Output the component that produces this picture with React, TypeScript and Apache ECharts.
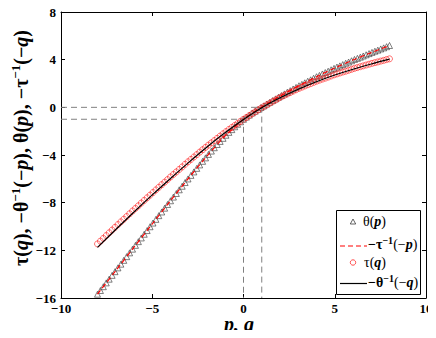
import React, { useEffect, useRef } from "react";
import * as echarts from "echarts";

// Sample positions (p for θ, q for τ)
const P = [
  -8, -7.84, -7.68, -7.52, -7.36, -7.2, -7.04, -6.88, -6.72, -6.56,
  -6.4, -6.24, -6.08, -5.92, -5.76, -5.6, -5.44, -5.28, -5.12, -4.96,
  -4.8, -4.64, -4.48, -4.32, -4.16, -4, -3.84, -3.68, -3.52, -3.36,
  -3.2, -3.04, -2.88, -2.72, -2.56, -2.4, -2.24, -2.08, -1.92, -1.76,
  -1.6, -1.44, -1.28, -1.12, -0.96, -0.8, -0.64, -0.48, -0.32, -0.16,
  0, 0.16, 0.32, 0.48, 0.64, 0.8, 0.96, 1.12, 1.28, 1.44,
  1.6, 1.76, 1.92, 2.08, 2.24, 2.4, 2.56, 2.72, 2.88, 3.04,
  3.2, 3.36, 3.52, 3.68, 3.84, 4, 4.16, 4.32, 4.48, 4.64,
  4.8, 4.96, 5.12, 5.28, 5.44, 5.6, 5.76, 5.92, 6.08, 6.24,
  6.4, 6.56, 6.72, 6.88, 7.04, 7.2, 7.36, 7.52, 7.68, 7.84, 8,
];

// θ(p) triangles
const THETA = [
  -15.68, -15.37, -15.05, -14.73, -14.42, -14.1, -13.79, -13.47, -13.16, -12.84,
  -12.53, -12.21, -11.9, -11.58, -11.27, -10.96, -10.65, -10.34, -10.02, -9.71,
  -9.4, -9.09, -8.78, -8.46, -8.15, -7.84, -7.53, -7.23, -6.92, -6.62,
  -6.31, -6.01, -5.71, -5.42, -5.12, -4.83, -4.53, -4.24, -3.95, -3.67,
  -3.39, -3.12, -2.86, -2.6, -2.34, -2.1, -1.87, -1.63, -1.42, -1.21,
  -1.0, -0.82, -0.65, -0.47, -0.32, -0.17, -0.01, 0.13, 0.28, 0.42,
  0.57, 0.71, 0.85, 0.99, 1.13, 1.27, 1.4, 1.54, 1.67, 1.81,
  1.93, 2.06, 2.19, 2.31, 2.44, 2.57, 2.68, 2.8, 2.92, 3.03,
  3.15, 3.27, 3.38, 3.48, 3.59, 3.7, 3.8, 3.91, 4.02, 4.11,
  4.21, 4.31, 4.41, 4.51, 4.61, 4.71, 4.8, 4.9, 4.99, 5.09, 5.19,
];

// τ(q) circles
const TAU = [
  -11.46, -11.23, -11.0, -10.76, -10.53, -10.3, -10.07, -9.84, -9.61, -9.39,
  -9.16, -8.93, -8.7, -8.48, -8.26, -8.03, -7.81, -7.59, -7.37, -7.15,
  -6.93, -6.71, -6.49, -6.28, -6.06, -5.84, -5.63, -5.42, -5.21, -5.0,
  -4.78, -4.57, -4.37, -4.17, -3.97, -3.76, -3.56, -3.36, -3.17, -2.98,
  -2.79, -2.6, -2.41, -2.22, -2.04, -1.86, -1.69, -1.52, -1.35, -1.17,
  -1.0, -0.85, -0.69, -0.53, -0.38, -0.22, -0.07, 0.07, 0.21, 0.35,
  0.49, 0.62, 0.76, 0.89, 1.01, 1.12, 1.24, 1.36, 1.47, 1.59,
  1.69, 1.79, 1.89, 1.99, 2.09, 2.19, 2.28, 2.37, 2.45, 2.54,
  2.63, 2.72, 2.8, 2.88, 2.96, 3.03, 3.11, 3.19, 3.27, 3.34,
  3.41, 3.48, 3.55, 3.62, 3.69, 3.75, 3.81, 3.88, 3.94, 4.01, 4.07,
];

// Curves drawn as lines
const LINE_X = [-8, -7, -6, -5, -4, -3, -2, -1, 0, 1, 2, 3, 4, 5, 6, 7, 8];
const NEG_TAU_INV = [
  -15.68, -13.71, -11.74, -9.79, -7.84, -5.93, -4.09, -2.4, -1.0,
  0.03, 0.93, 1.78, 2.57, 3.3, 3.97, 4.59, 5.19,
];
const NEG_THETA_INV = [
  -11.75, -10.25, -8.78, -7.35, -5.97, -4.62, -3.33, -2.12, -1.02,
  -0.03, 0.8, 1.52, 2.15, 2.71, 3.2, 3.64, 4.04,
];

// Dashed guide lines
const GUIDE_A = [[-10, 0], [1, 0], [1, -16]];
const GUIDE_B = [[-10, -1], [0, -1], [0, -16]];

const SERIF = '"Liberation Serif", "Times New Roman", serif';
const fmt = (v: number) => (v < 0 ? "\u2212" + Math.abs(v) : String(v));

const zip = (xs: number[], ys: number[]) => xs.map((x, i) => [x, ys[i]]);

export default function App() {
  const ref = useRef<HTMLDivElement>(null);

  useEffect(() => {
    if (!ref.current) return;
    const chart = echarts.init(ref.current, undefined, { renderer: "svg" });

    const axisCommon = {
      type: "value" as const,
      splitLine: { show: false },
      axisLine: { show: true, onZero: false, lineStyle: { color: "#000", width: 1 } },
      axisTick: { show: true, inside: true, length: 4, lineStyle: { color: "#000", width: 1 } },
    };
    const tickLabel = {
      formatter: fmt,
      color: "#000",
      fontFamily: SERIF,
      fontWeight: "bold" as const,
      fontSize: 13,
    };

    const rich = {
      n: { fontFamily: SERIF, fontSize: 14, color: "#000", lineHeight: 18 },
      b: { fontFamily: SERIF, fontSize: 14, fontWeight: "bold", color: "#000", lineHeight: 18 },
      i: { fontFamily: SERIF, fontSize: 14, fontWeight: "bold", fontStyle: "italic", color: "#000", lineHeight: 18 },
      s: { fontFamily: SERIF, fontSize: 10, fontWeight: "bold", color: "#000", lineHeight: 10, verticalAlign: "top" },
    };
    const richY = {
      n: { fontFamily: SERIF, fontSize: 20, fontWeight: "bold", color: "#000", lineHeight: 24 },
      i: { fontFamily: SERIF, fontSize: 20, fontWeight: "bold", fontStyle: "italic", color: "#000", lineHeight: 24 },
      s: { fontFamily: SERIF, fontSize: 13, fontWeight: "bold", color: "#000", lineHeight: 13, verticalAlign: "top" },
    };

    const legendX1 = 340;
    const legendX2 = 367;

    chart.setOption({
      animation: false,
      backgroundColor: "#fff",
      grid: { left: 61, top: 12, width: 365, height: 286, containLabel: false },
      xAxis: [
        { ...axisCommon, min: -10, max: 10, interval: 5, position: "bottom", axisLabel: { ...tickLabel, margin: 4 } },
        { ...axisCommon, min: -10, max: 10, interval: 5, position: "top", axisLabel: { show: false } },
      ],
      yAxis: [
        { ...axisCommon, min: -16, max: 8, interval: 4, position: "left", axisLabel: { ...tickLabel, margin: 5 } },
        { ...axisCommon, min: -16, max: 8, interval: 4, position: "right", axisLabel: { show: false } },
      ],
      series: [
        {
          type: "line", name: "guideA", data: GUIDE_A, symbol: "none", silent: true,
          lineStyle: { color: "#808080", width: 1, type: [6, 4] },
        },
        {
          type: "line", name: "guideB", data: GUIDE_B, symbol: "none", silent: true,
          lineStyle: { color: "#808080", width: 1, type: [6, 4] },
        },
        {
          type: "scatter", name: "θ(p)", data: zip(P, THETA), symbol: "triangle", symbolSize: 6,
          itemStyle: { color: "rgba(0,0,0,0)", borderColor: "#3a3a3a", borderWidth: 0.8 },
        },
        {
          type: "line", name: "−τ⁻¹(−p)", data: zip(LINE_X, NEG_TAU_INV), symbol: "none", smooth: 0.3,
          lineStyle: { color: "#ff0000", width: 1.2, type: [5, 3] },
        },
        {
          type: "scatter", name: "τ(q)", data: zip(P, TAU), symbol: "circle", symbolSize: 6,
          itemStyle: { color: "rgba(0,0,0,0)", borderColor: "#ff2020", borderWidth: 0.8 },
        },
        {
          type: "line", name: "−θ⁻¹(−q)", data: zip(LINE_X, NEG_THETA_INV), symbol: "none", smooth: 0.3,
          lineStyle: { color: "#000", width: 1.2 },
        },
      ],
      graphic: [
        {
          type: "text", left: 224, top: 314,
          style: {
            text: "p, q", fontFamily: SERIF, fontSize: 20, fontWeight: "bold", fontStyle: "italic",
            fill: "#000",
          },
        },
        {
          type: "text", x: 21, y: 148, rotation: Math.PI / 2,
          style: {
            text: "{n|τ(}{i|q}{n|), −θ}{s|−1}{n|(−}{i|p}{n|), θ(}{i|p}{n|), −τ}{s|−1}{n|(−}{i|q}{n|)}",
            rich: richY, align: "center", verticalAlign: "middle",
          },
        },
        {
          type: "group", z: 100,
          children: [
            { type: "rect", shape: { x: 336.5, y: 210.5, width: 84, height: 84 }, style: { fill: "#fff", stroke: "#000", lineWidth: 1 } },
            { type: "polygon", shape: { points: [[350.3, 224], [353, 219], [355.7, 224]] }, style: { fill: "none", stroke: "#3a3a3a", lineWidth: 0.8 } },
            { type: "text", x: 363, y: 221, style: { text: "{n|θ(}{i|p}{n|)}", rich, verticalAlign: "middle" } },
            { type: "line", shape: { x1: legendX1, y1: 246, x2: legendX2, y2: 246 }, style: { stroke: "#ff0000", lineWidth: 1.2, lineDash: [5, 3] } },
            { type: "text", x: 368, y: 244, style: { text: "{b|−τ}{s|−1}{n|(−}{i|p}{n|)}", rich, verticalAlign: "middle" } },
            { type: "circle", shape: { cx: 353, cy: 262.5, r: 2.7 }, style: { fill: "none", stroke: "#ff2020", lineWidth: 0.8 } },
            { type: "text", x: 364, y: 262, style: { text: "{n|τ(}{i|q}{n|)}", rich, verticalAlign: "middle" } },
            { type: "line", shape: { x1: legendX1, y1: 283.5, x2: legendX2, y2: 283.5 }, style: { stroke: "#000", lineWidth: 1.2 } },
            { type: "text", x: 368, y: 282, style: { text: "{b|−θ}{s|−1}{n|(−}{i|q}{n|)}", rich, verticalAlign: "middle" } },
          ],
        },
      ],
    });

    return () => chart.dispose();
  }, []);

  return <div ref={ref} style={{ width: 436, height: 338, margin: -8 }} />;
}
